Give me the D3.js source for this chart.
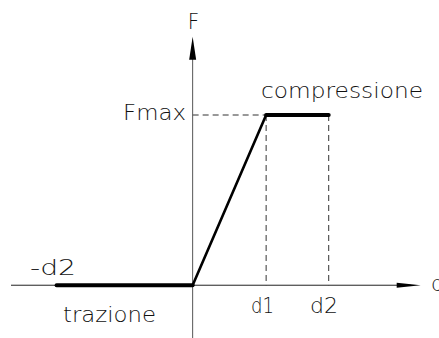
<!DOCTYPE html>
<html>
<head>
<meta charset="utf-8">
<script src="https://cdn.jsdelivr.net/npm/d3@7"></script>
<style>
  body { margin: 0; background: #fff; }
  svg { display: block; }
  text { font-family: "DejaVu Sans", sans-serif; font-weight: 200; fill: #111; }
</style>
</head>
<body>
<div id="chart"></div>
<script>
// force-displacement law, displacement normalised to d2 and force to Fmax
const curveD = [-1.0, 0, 0.54, 1.0];
const curveF = [0, 0, 1.0, 1.0];
const guideD = [0.54, 1.0];
const xLabels = ["d1", "d2"];
const yLabels = ["Fmax"];

const width = 439, height = 338;

const svg = d3.select("#chart").append("svg")
    .attr("width", width)
    .attr("height", height);

const x = d3.scaleLinear().domain([-1.335, 1.676]).range([11, 420.7]);
const y = d3.scaleLinear().domain([-0.31, 1.46]).range([338, 36.7]);

// dashed guides
svg.append("line")
    .attr("x1", x(0)).attr("x2", x(guideD[0]))
    .attr("y1", y(1)).attr("y2", y(1))
    .attr("stroke", "#333").attr("stroke-width", 1)
    .attr("stroke-dasharray", "6,4");

svg.selectAll(".guide")
    .data(guideD)
    .join("line")
    .attr("class", "guide")
    .attr("x1", d => x(d)).attr("x2", d => x(d))
    .attr("y1", y(1)).attr("y2", y(0))
    .attr("stroke", "#333").attr("stroke-width", 1)
    .attr("stroke-dasharray", "6,4");

// axes
svg.append("line")
    .attr("x1", x.range()[0]).attr("x2", x.range()[1] - 10)
    .attr("y1", y(0)).attr("y2", y(0))
    .attr("stroke", "#222").attr("stroke-width", 1);

svg.append("line")
    .attr("x1", x(0)).attr("x2", x(0))
    .attr("y1", y.range()[0]).attr("y2", y.range()[1] + 10)
    .attr("stroke", "#555").attr("stroke-width", 1);

// arrow heads
const xt = x.range()[1], yt = y.range()[1];
svg.append("path")
    .attr("d", `M${xt},${y(0)} L${xt - 24},${y(0) - 2.5} L${xt - 24},${y(0) + 2.5} Z`)
    .attr("fill", "#000");
svg.append("path")
    .attr("d", `M${x(0)},${yt} L${x(0) - 3.5},${yt + 23} L${x(0) + 3.5},${yt + 23} Z`)
    .attr("fill", "#000");

// curve, one segment at a time (flat parts are drawn heavier)
const pts = curveD.map((d, i) => [d, curveF[i]]);
svg.selectAll(".seg")
    .data(d3.pairs(pts))
    .join("line")
    .attr("class", "seg")
    .attr("x1", d => x(d[0][0])).attr("y1", d => y(d[0][1]))
    .attr("x2", d => x(d[1][0])).attr("y2", d => y(d[1][1]))
    .attr("stroke", "#000")
    .attr("stroke-width", d => d[0][1] === d[1][1] ? 4 : 2.6)
    .attr("stroke-linecap", "round");

// labels
const labels = [
    {t: "F", x: 187.7, y: 29, w: 11.5},
    {t: "compressione", x: 261, y: 98, w: 162},
    {t: yLabels[0], x: 123, y: 120, w: 63},
    {t: "-d2", x: 30, y: 275, w: 46},
    {t: "trazione", x: 63, y: 322, w: 93},
    {t: xLabels[0], x: 251, y: 313, w: 23},
    {t: xLabels[1], x: 310, y: 313, w: 28},
    {t: "d", x: 431, y: 291, w: 13}
];

svg.selectAll(".lbl")
    .data(labels)
    .join("text")
    .attr("class", "lbl")
    .attr("x", d => d.x)
    .attr("y", d => d.y)
    .attr("font-size", 22)
    .attr("textLength", d => d.w)
    .attr("lengthAdjust", "spacingAndGlyphs")
    .text(d => d.t);
</script>
</body>
</html>
